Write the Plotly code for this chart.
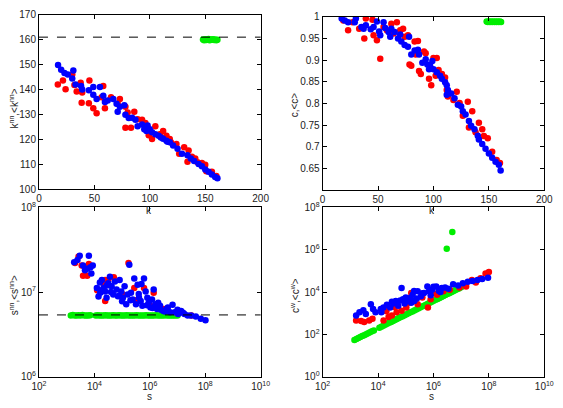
import plotly.graph_objects as go
from plotly.subplots import make_subplots

# ---------------- Panel 1: k vs k^nn ----------------
k1_blue = [17.2, 20, 23, 26, 30, 31, 33, 38, 39, 45, 49, 49, 55, 52, 58, 59.5, 62, 67, 70, 73, 71, 77, 78, 81,
           87, 89, 93, 96, 97, 100, 105, 108, 110, 115, 118, 121, 125, 129, 134, 137, 140, 144, 147, 150, 153,
           156, 159, 161, 98, 102, 112, 116, 95, 84]
knn_blue = [149.8, 147.9, 146.6, 146, 144.4, 147.6, 142, 141.4, 140, 139.7, 141, 137.9, 141, 136.2, 137.5, 135,
            135.6, 136.2, 134.3, 133, 131, 133.6, 129.8, 128.5, 127.8, 125.2, 125.9, 124.6, 123.3, 124, 122, 121.4,
            120.7, 119.4, 118.8, 117.5, 116.2, 114.2, 113.6, 112.3, 111.3, 110, 109.1, 107.8, 106.9, 105.8, 104.8,
            104.3, 125.5, 122.8, 120.2, 119.0, 124.0, 128.6]
k1_red = [17, 21.6, 24, 30, 32, 34, 37.6, 39, 38.5, 45.5, 45, 49, 52, 56.5, 58, 59.5, 65, 71, 73, 78, 80, 78, 83,
          86, 89, 93, 96, 99, 105, 102, 109, 112, 115, 118, 119, 124, 126.5, 131, 135, 134, 138, 141, 143, 147,
          150, 151, 156, 160]
knn_red = [142, 143.6, 140.1, 146, 141.8, 139.2, 142.7, 138.8, 134.7, 143.6, 134.5, 132.4, 130.4, 136.9, 141.4,
           132.4, 136.9, 134.3, 136.2, 133, 130.7, 124.6, 124.6, 131, 128, 127.8, 126.5, 121.6, 125.2, 120.1, 122,
           123.3, 121.4, 120.1, 118.8, 118.1, 114.2, 116.8, 115.5, 111, 113, 112.3, 110.8, 110.4, 109.7, 107.1,
           106.9, 105.2]
k1_green = [148, 149, 150, 151, 152, 153, 154, 155, 156, 157, 158, 159, 160, 161]
knn_green = [160.1, 159.8, 160.2, 159.9, 160.0, 160.3, 159.8, 160.1, 160.0, 160.2, 159.9, 160.1, 159.8, 160.0]
knn_ref = 161

# ---------------- Panel 2: k vs c ----------------
k2_blue = [17.2, 20, 23, 29, 30, 35, 37, 39, 43.4, 46, 49, 51, 52, 55, 56.5, 59.5, 61, 62, 65, 68, 70, 71, 74, 77,
           78, 80, 83, 86, 87, 90, 93, 94.5, 96, 97, 99, 100, 103, 106, 107.6, 110.5, 112, 113, 112, 116, 119, 122,
           125, 126.5, 129, 132, 134, 137, 140, 141, 144, 147, 150, 153, 156, 159, 160.6]
c_blue = [0.996, 0.991, 0.987, 0.987, 0.996, 0.976, 0.972, 0.98, 0.971, 0.976, 0.989, 0.966, 0.957, 0.987, 0.974,
          0.965, 0.954, 0.972, 0.965, 0.95, 0.959, 0.943, 0.935, 0.931, 0.954, 0.913, 0.922, 0.924, 0.913, 0.894,
          0.902, 0.89, 0.879, 0.887, 0.898, 0.879, 0.872, 0.864, 0.857, 0.849, 0.842, 0.831, 0.82, 0.823, 0.812,
          0.797, 0.793, 0.782, 0.775, 0.76, 0.749, 0.741, 0.726, 0.717, 0.707, 0.696, 0.685, 0.675, 0.666, 0.659,
          0.646]
k2_red = [18.7, 23, 27, 33, 37.6, 39, 45, 46, 49, 52, 55, 58, 62, 64, 67, 70, 72.6, 74, 77, 78.4, 80, 83, 84, 86,
          87, 88.6, 91.5, 93, 96, 98, 100, 103, 102, 104.6, 107.6, 110.5, 112, 113, 118, 121, 123.6, 126.5, 131,
          132, 135, 138, 141, 144, 145.5, 149, 153, 157, 160]
c_red = [0.991, 0.969, 0.987, 0.972, 0.95, 0.996, 0.993, 0.957, 0.946, 0.903, 0.976, 0.969, 0.984, 0.961, 0.987,
         0.969, 0.972, 0.954, 0.957, 0.89, 0.887, 0.943, 0.913, 0.944, 0.875, 0.868, 0.92, 0.916, 0.857, 0.842,
         0.905, 0.905, 0.864, 0.877, 0.868, 0.86, 0.831, 0.816, 0.808, 0.827, 0.801, 0.772, 0.804, 0.745, 0.782,
         0.734, 0.756, 0.741, 0.725, 0.72, 0.689, 0.67, 0.663]
k2_green = [148, 149, 150, 151, 152, 153, 154, 155, 156, 157, 158, 159, 160, 161]
c_green = [0.989, 0.988, 0.989, 0.988, 0.989, 0.988, 0.989, 0.988, 0.989, 0.988, 0.989, 0.988, 0.989, 0.988]

# ---------------- Panel 3: s vs s^nn ----------------
s3_blue = [1.86e3, 2.45e3, 2.95e3, 3.89e3, 4.57e3, 5.50e3, 6.31e3, 7.24e3, 7.76e3, 8.71e3, 1.23e4, 1.62e4,
           1.86e4, 2.14e4, 2.45e4, 2.75e4, 3.16e4, 3.63e4, 4.17e4, 4.79e4, 5.50e4, 6.31e4, 7.08e4, 8.13e4,
           9.33e4, 1.07e5, 1.23e5, 1.41e5, 1.58e5, 1.82e5, 2.09e5, 2.40e5, 2.75e5, 3.16e5, 3.63e5, 4.07e5,
           4.68e5, 5.37e5, 6.17e5, 7.08e5, 8.13e5, 9.12e5, 1.05e6, 1.20e6, 1.38e6, 1.58e6, 1.82e6, 2.34e6,
           3.09e6, 4.07e6, 5.37e6, 6.61e6, 7.94e6, 1.05e7, 1.35e7, 1.78e7, 2.34e7, 3.09e7, 4.57e7, 6.92e7,
           1.02e8, 1.41e4, 1.78e4, 3.98e4, 7.94e4, 1.0e5, 2.0e5, 3.98e5, 7.94e5, 1.26e6, 2.0e6, 2.51e6, 3.55e6,
           4.47e6, 1.0e7, 1.58e7, 2.82e4, 5.0e5, 1.58e4]
snn_blue = [2.25e7, 2.39e7, 2.69e7, 2.06e7, 1.81e7, 1.89e7, 2.69e7, 1.97e7, 1.66e7, 2.06e7, 1.12e7, 9.8e6, 1.39e7,
            1.12e7, 1.02e7, 8.6e6, 1.27e7, 1.52e7, 1.17e7, 9.4e6, 1.33e7, 1.07e7, 8.95e6, 1.39e7, 1.02e7, 8.6e6,
            1.17e7, 7.2e6, 9.4e6, 2.10e7, 9.8e6, 8.2e6, 1.45e7, 7.2e6, 1.22e7, 8.6e6, 7.85e6, 6.9e6, 1.45e7,
            1.02e7, 8.6e6, 7.5e6, 6.6e6, 8.2e6, 1.07e7, 7.2e6, 6.3e6, 6.9e6, 6.0e6, 6.3e6, 5.8e6, 7.1e6, 5.8e6,
            5.5e6, 6.0e6, 5.5e6, 5.3e6, 5.3e6, 5.15e6, 4.85e6, 4.65e6, 8.9e6, 1.05e7, 1.0e7, 9.0e6, 7.8e6, 8.0e6,
            9.5e6, 7.0e6, 6.5e6, 7.5e6, 6.2e6, 5.9e6, 6.6e6, 6.2e6, 5.7e6, 1.2e7, 1.25e7, 1.3e7]
s3_red = [2.69e3, 3.47e3, 3.89e3, 5.50e3, 6.31e3, 2.29e4, 3.16e4, 2.45e4, 1.70e5, 2.75e5, 6.17e5, 1.38e6, 2.45e4,
          1.26e4, 5.0e4, 1.0e5, 3.16e5, 1.0e6, 3.16e6, 1.0e7, 3.16e7, 2.0e3]
snn_red = [2.64e7, 2.06e7, 1.56e7, 1.56e7, 2.15e7, 1.20e7, 1.39e7, 1.39e7, 2.21e7, 1.12e7, 1.12e7, 9.8e6, 7.85e6,
           1.05e7, 1.5e7, 9.5e6, 8.0e6, 7.0e6, 6.3e6, 5.6e6, 5.3e6, 2.2e7]
s_green = [1.41e3, 1.66e3, 1.95e3, 2.29e3, 2.69e3, 3.16e3, 3.72e3, 4.37e3, 5.13e3, 6.03e3, 7.08e3,
           1.12e4, 1.32e4, 1.55e4, 1.82e4, 2.14e4, 2.51e4, 2.95e4, 3.47e4, 4.07e4, 4.79e4, 5.62e4, 6.61e4,
           7.76e4, 9.12e4, 1.07e5, 1.26e5, 1.48e5, 1.74e5, 2.04e5, 2.40e5, 2.82e5, 3.31e5, 3.89e5, 4.57e5,
           5.37e5, 6.31e5, 7.41e5, 8.71e5, 1.02e6, 1.20e6, 1.41e6, 1.66e6, 1.95e6, 2.29e6, 2.69e6, 3.16e6,
           3.72e6, 4.37e6, 5.13e6, 6.03e6, 7.08e6, 8.32e6, 1.0e7]
snn_green = [5.3e6, 5.35e6, 5.3e6, 5.28e6, 5.32e6, 5.3e6, 5.35e6, 5.3e6, 5.28e6, 5.3e6, 5.33e6,
             5.3e6, 5.32e6, 5.3e6, 5.28e6, 5.3e6, 5.33e6, 5.3e6, 5.3e6, 5.28e6, 5.32e6, 5.3e6, 5.3e6,
             5.33e6, 5.3e6, 5.28e6, 5.3e6, 5.32e6, 5.3e6, 5.3e6, 5.28e6, 5.3e6, 5.33e6, 5.3e6, 5.3e6,
             5.28e6, 5.3e6, 5.32e6, 5.3e6, 5.3e6, 5.28e6, 5.3e6, 5.33e6, 5.3e6, 5.3e6, 5.28e6, 5.3e6,
             5.32e6, 5.3e6, 5.3e6, 5.28e6, 5.3e6, 5.3e6, 5.3e6]
snn_ref = 5.38e6

# ---------------- Panel 4: s vs c^w ----------------
s4_blue = [1.62e3, 2.14e3, 2.95e3, 3.63e3, 5.50e3, 6.61e3, 8.13e3, 1.32e4, 1.58e4, 2.09e4, 2.75e4, 3.55e4, 4.37e4,
           5.37e4, 7.08e4, 7.94e4, 9.12e4, 1.20e5, 1.48e5, 1.78e5, 2.04e5, 2.69e5, 3.55e5, 4.57e5, 6.03e5, 6.92e5,
           8.91e5, 1.26e6, 1.55e6, 2.00e6, 2.63e6, 3.47e6, 5.13e6, 7.76e6, 1.15e7, 1.74e7, 2.57e7, 3.89e7, 5.75e7,
           9.33e7, 1.26e4, 3.16e4, 6.31e4, 1.0e5, 1.58e5, 2.51e5, 3.98e5, 7.94e5, 1.0e6, 1.78e6, 2.0e5]
cw_blue = [776, 1120, 1410, 933, 2690, 1580, 1120, 1120, 1860, 2510, 1860, 2880, 3800, 2240, 15500, 4570, 2880,
           3800, 5370, 7590, 3800, 11000, 6460, 9120, 18600, 11000, 12900, 18600, 11700, 15500, 16600, 14500,
           23400, 20400, 26300, 30900, 33100, 37200, 41700, 47900, 1580, 3550, 3980, 5620, 3160, 5010, 8910,
           7080, 17800, 10000, 11200]
s4_red = [1.62e3, 2.45e3, 3.16e3, 4.79e3, 6.31e3, 1.58e4, 2.40e4, 3.16e4, 4.68e4, 7.08e4, 1.05e5, 1.58e5, 2.69e5,
          6.31e5, 7.94e5, 1.35e6, 2.29e6, 3.89e6, 8.71e6, 1.51e7, 2.45e7, 3.39e7, 5.01e7, 7.59e7, 1.0e8, 3.98e4,
          1.26e5, 3.98e5, 1.0e6, 2.0e4]
cw_red = [457, 427, 389, 457, 550, 457, 661, 776, 1120, 1320, 1860, 9120, 2690, 1860, 4570, 7590, 11000, 12900,
          16600, 18600, 37200, 28800, 44700, 75900, 89100, 2000, 3160, 5620, 8910, 1260]
cw_green = [55, 61, 68, 75, 84, 93, 103, 114, 127, 141, 156,
            210, 233, 259, 287, 318, 353, 393, 436, 483, 536, 596, 661, 733, 813, 902, 1000, 1110, 1230, 1370,
            1520, 1690, 1870, 2080, 2300, 2560, 2840, 3150, 3490, 3870, 4300, 4780, 5300, 5880, 6530, 7240,
            8040, 8910, 9890, 11000, 12200, 13500, 15000, 16900]
s4_green_out = [3.02e6, 4.79e6]
cw_green_out = [1.12e6, 6.9e6]

x_ticks_k = [0, 50, 100, 150, 200]
y_ticks_knn = [100, 110, 120, 130, 140, 150, 160, 170]
y_ticks_c = [0.65, 0.7, 0.75, 0.8, 0.85, 0.9, 0.95, 1]
y_ticktext_c = ["0.65", "0.7", "0.75", "0.8", "0.85", "0.9", "0.95", "1"]
x_ticks_s = [1e2, 1e4, 1e6, 1e8, 1e10]
x_ticktext_s = ["10<sup>2</sup>", "10<sup>4</sup>", "10<sup>6</sup>", "10<sup>8</sup>", "10<sup>10</sup>"]
y_ticks_snn = [1e6, 1e7, 1e8]
y_ticktext_snn = ["10<sup>6</sup>", "10<sup>7</sup>", "10<sup>8</sup>"]
y_ticks_cw = [1e0, 1e2, 1e4, 1e6, 1e8]
y_ticktext_cw = ["10<sup>0</sup>", "10<sup>2</sup>", "10<sup>4</sup>", "10<sup>6</sup>", "10<sup>8</sup>"]

RED, BLUE, GREEN = "#ff0000", "#0000ff", "#00ee00"
W, H = 563, 408

fig = make_subplots(rows=2, cols=2)

def add(x, y, color, row, col, size=6.5):
    fig.add_trace(go.Scatter(x=x, y=y, mode="markers",
                             marker=dict(color=color, size=size, line=dict(width=0)),
                             showlegend=False, hoverinfo="skip"), row=row, col=col)

add(k1_green, knn_green, GREEN, 1, 1)
add(k1_red, knn_red, RED, 1, 1)
add(k1_blue, knn_blue, BLUE, 1, 1)
add(k2_green, c_green, GREEN, 1, 2)
add(k2_red, c_red, RED, 1, 2)
add(k2_blue, c_blue, BLUE, 1, 2)
add(s_green, snn_green, GREEN, 2, 1)
add(s3_red, snn_red, RED, 2, 1)
add(s3_blue, snn_blue, BLUE, 2, 1)
add(s_green, cw_green, GREEN, 2, 2)
add(s4_green_out, cw_green_out, GREEN, 2, 2)
add(s4_red, cw_red, RED, 2, 2)
add(s4_blue, cw_blue, BLUE, 2, 2)

fig.add_hline(y=knn_ref, line=dict(color="black", width=1, dash="dash"), row=1, col=1)
fig.add_hline(y=snn_ref, line=dict(color="black", width=1, dash="dash"), row=2, col=1)

def px_dom_x(a, b):
    return [a / W, b / W]

def px_dom_y(top, bottom):
    return [1 - bottom / H, 1 - top / H]

tickfont = dict(family="Liberation Sans, Arial, sans-serif", size=10, color="#222")
common = dict(showline=True, linecolor="black", linewidth=1, mirror="allticks", ticks="inside",
              ticklen=4, tickcolor="black", showgrid=False, zeroline=False, tickfont=tickfont)

fig.update_xaxes(common)
fig.update_yaxes(common)

fig.update_xaxes(domain=px_dom_x(32, 261), range=[0, 200], tickvals=x_ticks_k, row=1, col=1)
fig.update_yaxes(domain=px_dom_y(8, 188), range=[100, 170], tickvals=y_ticks_knn, row=1, col=1)
fig.update_xaxes(domain=px_dom_x(325, 554), range=[0, 200], tickvals=x_ticks_k, row=1, col=2)
fig.update_yaxes(domain=px_dom_y(10, 189), range=[0.601, 1], tickvals=y_ticks_c, ticktext=y_ticktext_c,
                 row=1, col=2)
fig.update_xaxes(domain=px_dom_x(32, 261), type="log", range=[2, 10], tickvals=x_ticks_s,
                 ticktext=x_ticktext_s, row=2, col=1)
fig.update_yaxes(domain=px_dom_y(207, 382), type="log", range=[6, 8], tickvals=y_ticks_snn,
                 ticktext=y_ticktext_snn, row=2, col=1)
fig.update_xaxes(domain=px_dom_x(325, 554), type="log", range=[2, 10], tickvals=x_ticks_s,
                 ticktext=x_ticktext_s, row=2, col=2)
fig.update_yaxes(domain=px_dom_y(207, 382), type="log", range=[0, 8], tickvals=y_ticks_cw,
                 ticktext=y_ticktext_cw, row=2, col=2)

labfont = dict(family="Liberation Sans, Arial, sans-serif", size=10, color="#222")

def label(text, px, py, angle=0):
    fig.add_annotation(text=text, x=px / W, y=1 - py / H, xref="paper", yref="paper",
                       showarrow=False, textangle=angle, font=labfont,
                       xanchor="center", yanchor="middle")

label("k", 146, 210)
label("k", 438, 210)
label("s", 146, 402)
label("s", 438, 402)
label("k<sup>nn</sup>,&lt;k<sup>nn</sup>&gt;", 6, 105, -90)
label("c,&lt;c&gt;", 296, 101, -90)
label("s<sup>nn</sup>,&lt;s<sup>nn</sup>&gt;", 6, 298, -90)
label("c<sup>w</sup>,&lt;c<sup>w</sup>&gt;", 296, 298, -90)

fig.update_layout(width=W, height=H, margin=dict(l=0, r=0, t=0, b=0),
                  paper_bgcolor="white", plot_bgcolor="white", showlegend=False)

fig.write_html("out.html")
